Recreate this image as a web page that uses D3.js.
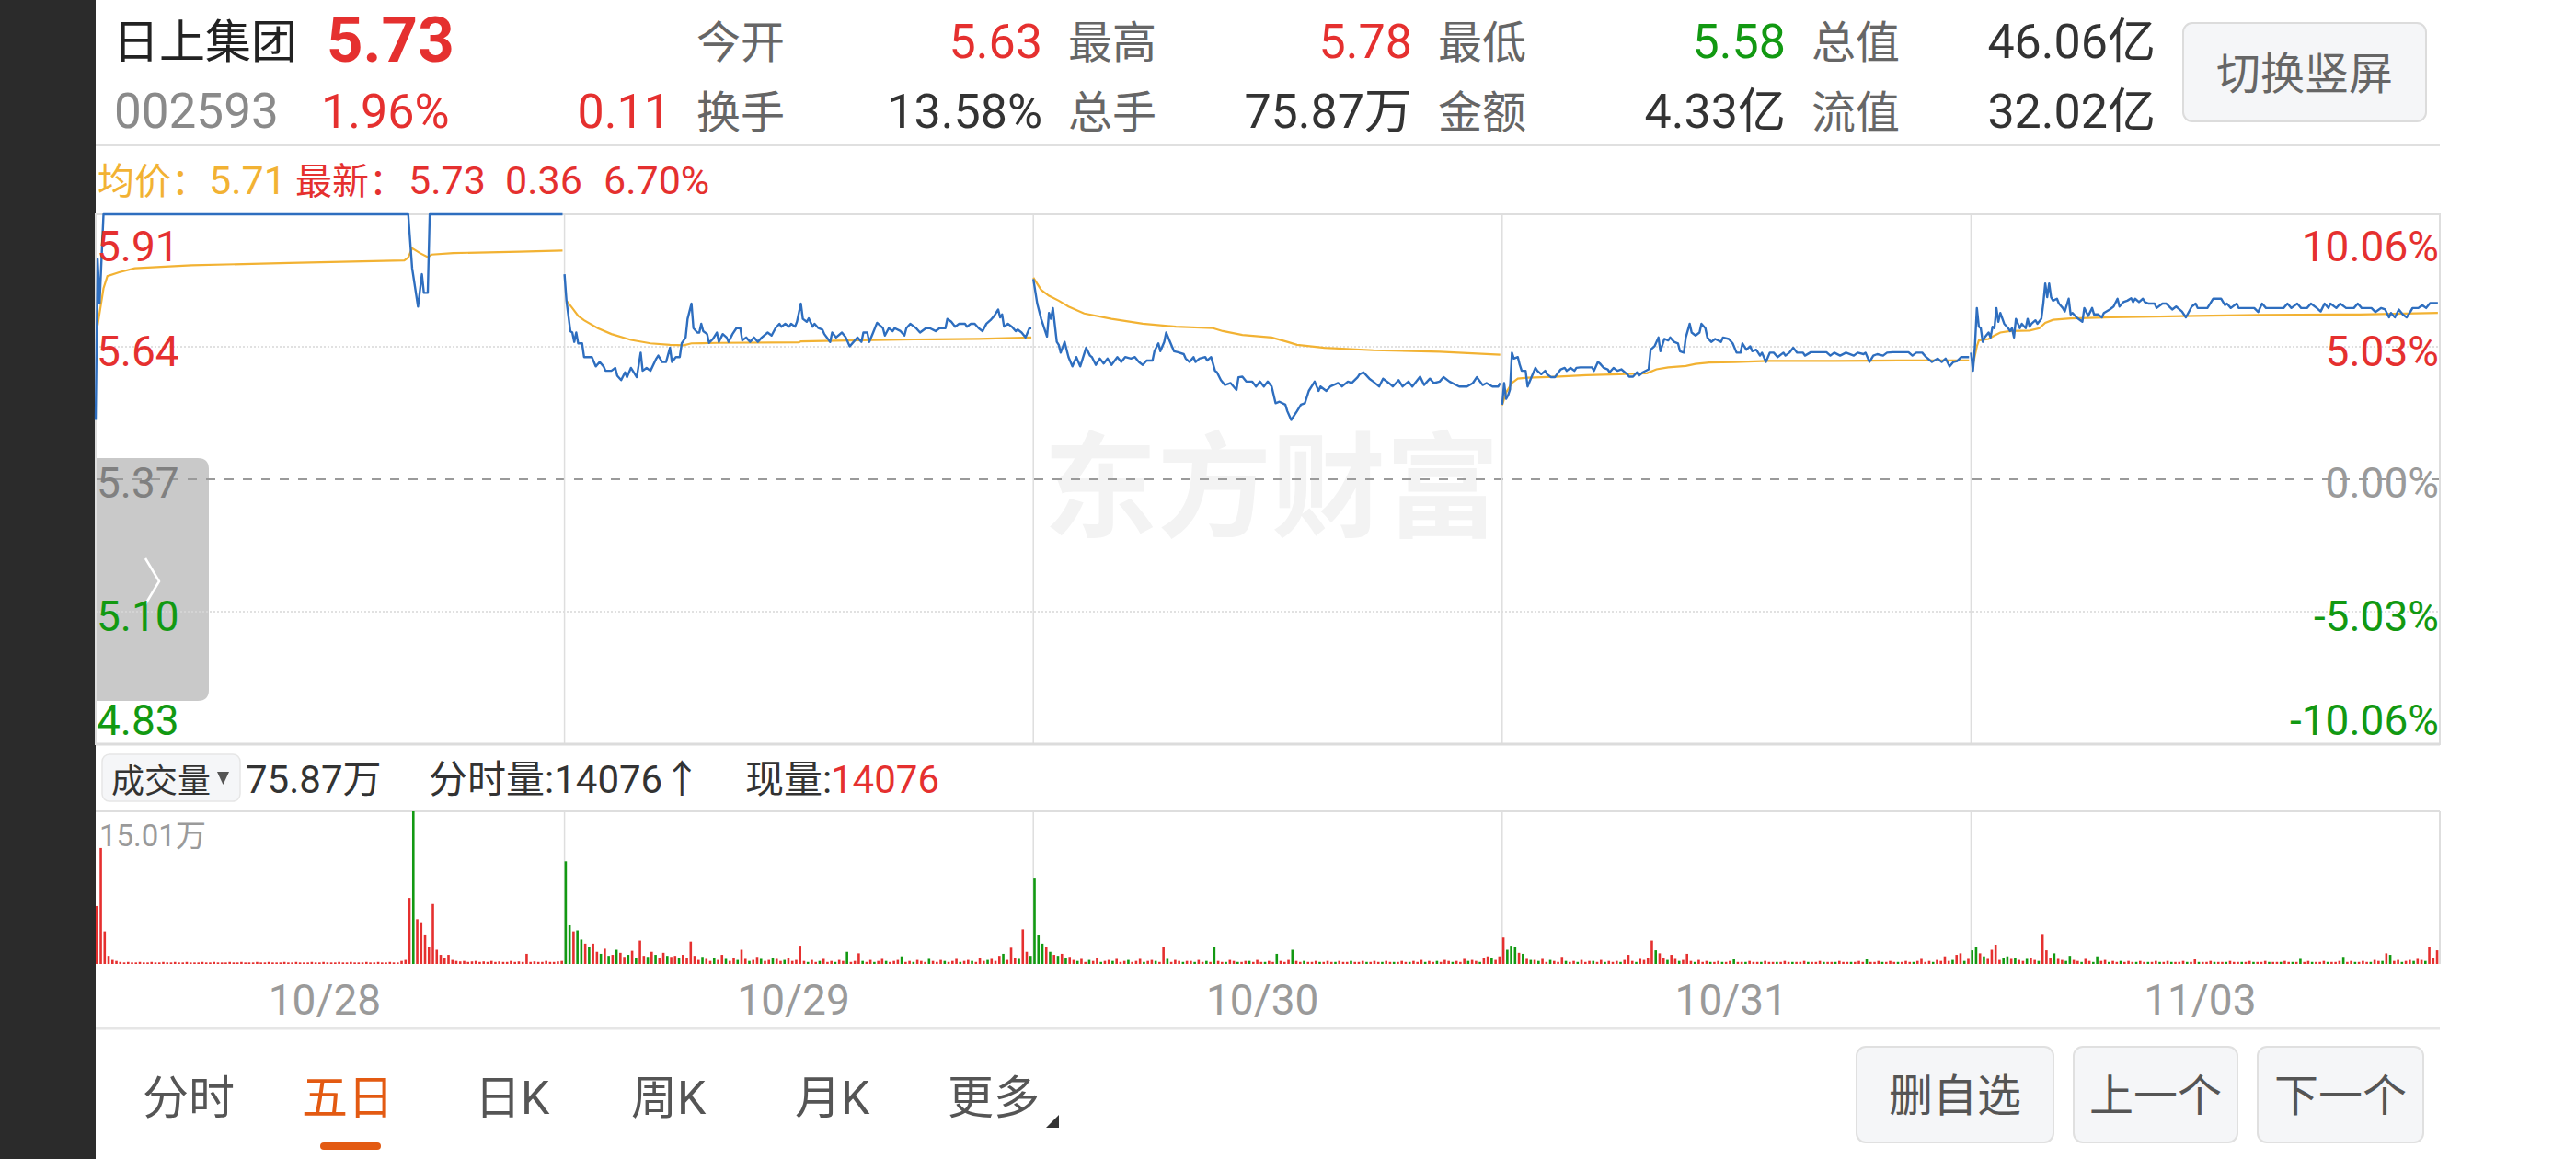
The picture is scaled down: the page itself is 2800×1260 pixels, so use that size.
<!DOCTYPE html>
<html><head><meta charset="utf-8">
<script src="https://d3js.org/d3.v7.min.js"></script>
<style>html,body{margin:0;padding:0;background:#fff;overflow:hidden}</style>
</head><body>
<svg id="c" width="2800" height="1260"></svg>
<script>
// ---------------- DATA ----------------
const stockName = "日上集团";
const stockCode = "002593";
const lastPrice = 5.73;
const todayPrevClose = 5.62;
const dayChangePct = "1.96%";
const dayChange = "0.11";
const quoteLabels = [["今开","最高","最低","总值"],["换手","总手","金额","流值"]];
const quoteValues = [["5.63","5.78","5.58","46.06亿"],["13.58%","75.87万","4.33亿","32.02亿"]];
const avgPrice = "5.71";
const latestInfo = ["5.73","0.36","6.70%"];
const days = ["10/28","10/29","10/30","10/31","11/03"];
const prevClose = 5.37;
const priceTicks = [5.91,5.64,5.37,5.10,4.83];
const pctTicks = ["10.06%","5.03%","0.00%","-5.03%","-10.06%"];
const volMaxLabel = "15.01万";
const volMax = 150.1; // thousand lots
const volInfo = {total:"75.87万", minute:"14076", now:"14076"};
const tabs = ["分时","五日","日K","周K","月K","更多"];
const buttons = ["删自选","上一个","下一个"];

// [minute of day, price]
const priceDay1 = [[0,5.491],[1,5.819],[2,5.728],[4,5.910],[160,5.910],[162,5.800],[165,5.722],[167,5.788],[168,5.750],[170,5.750],[171,5.910],[239,5.910]];
const avgDay1 = [[1,5.684],[4,5.759],[6,5.784],[12,5.792],[20,5.800],[49,5.806],[99,5.811],[158,5.816],[160,5.822],[162,5.841],[166,5.831],[170,5.823],[172,5.828],[183,5.831],[217,5.834],[239,5.836]];
const priceDay2 = [[0,5.788],[1,5.734],[3,5.672],[4,5.669],[5,5.650],[6,5.669],[7,5.647],[9,5.647],[10,5.619],[14,5.619],[16,5.600],[18,5.609],[20,5.600],[21,5.591],[24,5.591],[26,5.597],[27,5.581],[29,5.572],[31,5.588],[32,5.578],[34,5.597],[37,5.578],[39,5.628],[40,5.591],[42,5.597],[44,5.591],[47,5.616],[48,5.622],[50,5.609],[52,5.609],[54,5.638],[55,5.609],[57,5.619],[59,5.619],[60,5.647],[62,5.659],[63,5.697],[65,5.728],[66,5.678],[68,5.669],[69,5.669],[70,5.687],[71,5.672],[73,5.666],[74,5.648],[76,5.656],[78,5.669],[79,5.650],[81,5.666],[83,5.659],[84,5.650],[86,5.666],[88,5.678],[90,5.678],[91,5.653],[93,5.659],[95,5.650],[97,5.659],[99,5.650],[101,5.659],[104,5.669],[106,5.663],[108,5.678],[110,5.687],[111,5.681],[113,5.687],[115,5.681],[116,5.687],[118,5.681],[119,5.691],[121,5.728],[122,5.697],[124,5.691],[125,5.698],[127,5.681],[128,5.687],[130,5.678],[132,5.675],[133,5.666],[136,5.650],[137,5.669],[139,5.659],[142,5.669],[144,5.659],[146,5.641],[148,5.650],[150,5.659],[152,5.650],[153,5.669],[155,5.669],[156,5.650],[158,5.669],[160,5.689],[163,5.678],[164,5.663],[166,5.678],[168,5.672],[169,5.678],[172,5.672],[174,5.663],[175,5.678],[177,5.687],[179,5.681],[180,5.678],[182,5.669],[185,5.678],[187,5.678],[190,5.672],[192,5.678],[195,5.678],[196,5.697],[198,5.691],[200,5.681],[202,5.687],[205,5.687],[206,5.681],[208,5.687],[210,5.687],[212,5.678],[214,5.672],[216,5.687],[218,5.694],[220,5.703],[222,5.716],[223,5.700],[224,5.706],[225,5.681],[227,5.687],[229,5.681],[231,5.672],[232,5.675],[234,5.669],[236,5.659],[238,5.678],[239,5.678]];
const avgDay2 = [[1,5.734],[4,5.719],[7,5.703],[10,5.694],[17,5.678],[24,5.666],[34,5.654],[44,5.647],[54,5.644],[61,5.643],[65,5.647],[78,5.648],[120,5.649],[121,5.651],[145,5.653],[179,5.655],[212,5.656],[239,5.659]];
const priceDay3 = [[0,5.778],[2,5.728],[4,5.697],[7,5.661],[8,5.709],[9,5.697],[10,5.719],[12,5.650],[13,5.644],[14,5.628],[16,5.650],[18,5.619],[20,5.600],[22,5.619],[24,5.600],[27,5.638],[29,5.622],[30,5.619],[32,5.603],[34,5.616],[36,5.606],[38,5.616],[40,5.603],[43,5.619],[45,5.609],[47,5.619],[50,5.616],[52,5.619],[54,5.609],[56,5.603],[58,5.612],[61,5.612],[62,5.631],[64,5.647],[65,5.631],[67,5.650],[68,5.669],[70,5.650],[72,5.631],[74,5.629],[77,5.625],[78,5.616],[80,5.609],[82,5.619],[83,5.609],[85,5.616],[88,5.619],[89,5.612],[91,5.619],[93,5.591],[94,5.588],[96,5.572],[98,5.562],[101,5.566],[104,5.552],[105,5.578],[107,5.579],[109,5.569],[112,5.569],[114,5.559],[116,5.569],[118,5.559],[120,5.569],[122,5.559],[124,5.525],[126,5.528],[129,5.522],[130,5.509],[132,5.491],[135,5.509],[137,5.522],[139,5.525],[141,5.550],[144,5.569],[146,5.550],[147,5.559],[150,5.550],[152,5.559],[156,5.566],[158,5.559],[161,5.569],[163,5.566],[166,5.578],[167,5.584],[169,5.588],[172,5.575],[174,5.569],[177,5.559],[179,5.575],[182,5.566],[184,5.559],[187,5.572],[189,5.559],[192,5.569],[194,5.559],[198,5.579],[200,5.562],[203,5.575],[205,5.566],[208,5.569],[210,5.578],[213,5.569],[218,5.559],[222,5.559],[225,5.566],[227,5.578],[230,5.562],[232,5.566],[235,5.559],[238,5.559],[239,5.566]];
const avgDay3 = [[0,5.781],[4,5.756],[8,5.744],[13,5.734],[18,5.722],[26,5.708],[40,5.697],[56,5.687],[73,5.681],[92,5.678],[97,5.672],[107,5.664],[122,5.659],[130,5.650],[135,5.644],[149,5.638],[174,5.633],[208,5.630],[239,5.624]];
const priceDay4 = [[0,5.522],[1,5.566],[2,5.534],[3,5.541],[4,5.553],[5,5.628],[6,5.616],[8,5.619],[9,5.603],[10,5.591],[12,5.591],[13,5.559],[15,5.578],[17,5.597],[18,5.591],[20,5.584],[22,5.591],[23,5.584],[25,5.578],[27,5.578],[30,5.594],[32,5.597],[33,5.591],[35,5.597],[37,5.591],[38,5.597],[40,5.598],[46,5.598],[47,5.591],[49,5.609],[50,5.606],[52,5.597],[54,5.594],[55,5.588],[57,5.597],[59,5.591],[61,5.594],[64,5.584],[65,5.579],[67,5.579],[69,5.588],[70,5.581],[72,5.588],[75,5.594],[76,5.634],[78,5.641],[80,5.659],[81,5.631],[83,5.656],[85,5.653],[86,5.659],[88,5.650],[90,5.647],[91,5.631],[93,5.628],[94,5.659],[96,5.687],[97,5.669],[99,5.663],[101,5.669],[102,5.687],[104,5.678],[105,5.659],[107,5.650],[109,5.656],[112,5.650],[113,5.659],[116,5.656],[118,5.647],[120,5.628],[122,5.628],[123,5.647],[125,5.634],[127,5.641],[128,5.631],[130,5.634],[132,5.622],[133,5.628],[135,5.609],[137,5.628],[139,5.628],[141,5.619],[144,5.628],[145,5.622],[147,5.628],[149,5.638],[151,5.628],[154,5.628],[155,5.622],[158,5.629],[166,5.629],[168,5.622],[170,5.628],[173,5.622],[176,5.628],[180,5.622],[182,5.628],[185,5.625],[186,5.628],[188,5.609],[190,5.622],[192,5.625],[195,5.622],[197,5.628],[200,5.629],[208,5.629],[210,5.622],[212,5.628],[215,5.628],[217,5.619],[220,5.609],[223,5.616],[225,5.609],[227,5.616],[229,5.600],[231,5.609],[233,5.611],[235,5.619],[239,5.619]];
const avgDay4 = [[0,5.521],[2,5.547],[5,5.566],[8,5.575],[13,5.577],[27,5.579],[43,5.582],[60,5.584],[74,5.586],[79,5.594],[85,5.598],[94,5.601],[99,5.605],[106,5.608],[119,5.609],[136,5.611],[170,5.611],[203,5.612],[239,5.612]];
const priceDay5 = [[0,5.628],[1,5.591],[2,5.641],[3,5.719],[4,5.681],[5,5.678],[6,5.650],[7,5.659],[9,5.669],[10,5.659],[11,5.681],[12,5.678],[13,5.719],[14,5.691],[15,5.709],[17,5.687],[19,5.678],[20,5.672],[21,5.678],[22,5.659],[23,5.697],[25,5.678],[26,5.687],[28,5.678],[29,5.697],[30,5.681],[31,5.687],[33,5.694],[34,5.687],[36,5.697],[37,5.728],[38,5.769],[39,5.741],[40,5.769],[41,5.741],[42,5.734],[44,5.738],[45,5.728],[47,5.719],[48,5.712],[50,5.738],[51,5.706],[52,5.709],[54,5.700],[56,5.694],[57,5.691],[58,5.719],[60,5.703],[62,5.719],[63,5.706],[65,5.706],[67,5.700],[68,5.709],[71,5.716],[73,5.722],[75,5.738],[76,5.722],[78,5.731],[80,5.734],[82,5.739],[83,5.731],[84,5.738],[86,5.731],[88,5.738],[89,5.731],[91,5.728],[94,5.728],[95,5.719],[98,5.728],[100,5.728],[103,5.716],[105,5.722],[108,5.712],[110,5.700],[113,5.722],[115,5.728],[116,5.719],[121,5.719],[124,5.738],[128,5.738],[130,5.725],[131,5.728],[133,5.719],[136,5.728],[137,5.719],[145,5.719],[147,5.711],[149,5.728],[151,5.719],[160,5.719],[162,5.728],[164,5.719],[167,5.728],[169,5.719],[172,5.719],[174,5.728],[177,5.719],[179,5.712],[181,5.728],[183,5.719],[184,5.728],[187,5.719],[189,5.728],[192,5.719],[196,5.719],[198,5.728],[200,5.719],[205,5.719],[207,5.711],[210,5.719],[212,5.716],[214,5.700],[215,5.709],[217,5.700],[219,5.716],[221,5.706],[223,5.700],[225,5.712],[226,5.719],[229,5.719],[231,5.725],[233,5.719],[235,5.729],[239,5.729]];
const avgDay5 = [[1,5.603],[3,5.641],[4,5.653],[9,5.656],[12,5.663],[15,5.669],[20,5.672],[30,5.673],[35,5.678],[38,5.689],[42,5.695],[51,5.698],[72,5.700],[115,5.703],[148,5.705],[199,5.706],[239,5.709]];

// volume, one value per 2 minutes, thousand lots; positive = up (red), negative = down (green)
const volDay1 = [57,114,32,8,4,3,2,1.5,2,1.5, 1.5,2,1.5,1.5,2,1.5,1.5,2,1.5,1.5, 2,1.5,1.5,2,1.5,1.5,1.5,2,1.5,1.5, 2,1.5,1.5,1.5,2,1.5,1.5,2,1.5,1.5, 1.5,2,1.5,1.5,2,1.5,1.5,1.5,2,1.5, 1.5,2,1.5,1.5,1.5,2,1.5,1.5,2,1.5, 1.5,1.5,2,1.5,1.5,2,1.5,1.5,1.5,2, 1.5,1.5,2,1.5,1.5,2,1.5,1.5,3,4, 65,-150.1,44,41,29,17,59,14,9,6, 9,4,3,2.5,3,2,2.5,3,2,2.5, 2,3,2,2.5,2,2,3,2,2.5,2, 10,2,2.5,2,2,3,2,2,2.5,3];
const volDay2 = [-101,-38,32,-33,-24,20,-17,20, 12,-10,15,-8,9,-14,11,7,-9,13,-6,23,8,-7,12,-9,6,11,-8,7,8,-6,9, 6,22,8,4,-7,5,3,-6,4,9,-5,3,6,-4,14,5,-3,4,7,-5,3,4,-6,5,3,-4,6,3,4, 18,3,-2,4,2,-3,5,2,3,-2,4,3,-12,2,3,10.5,-3,2,4,-2,3,5,-3,2,3,4,-7.5,2,3,-2,4,3,2,-5,3,2,4,-3,2,3,5,-2,3,4,-3,2,6,3,-4,5,3,8,-10,4,16,6,-5,34,12,-8];
const volDay3 = [-84,-28,-20,17,-12,9,-8,10,-6,7, 4,-3,5,2,-4,3,6,-2,3,4,-3,5,2,3,-4,2,3,5,-2,3,4,-3,2,17,-5,2,4,3,-2,3, 3,-2,4,2,-3,2,-17,3,2,-2, 4,3,-2,2,3,-3,2,4,2,-2, 3,2,-10,3,2,4,-14,3,2,-3, 2,2,3,-2,2,3,2,-2,3,2, 2,-3,2,2,3,-2,2,3,2,-2, 3,2,-2,2,3,2,-2,3,2,4, -2,3,2,-3,2,4,3,-2,3,2, 5,-3,4,3,-2,6,7.5,-6,4,7.5];
const volDay4 = [26,-14,-18,-17,11,-10,5,-4, 4,-3,5,2,-4,3,2,7,-3,2, 3,-2,4,2,3,-3,2,4,-2,3, 2,3,-2,4,9,3,-2,5,4,6, 23,-13.5,10.5,6,-4,9,5,-3,4,10, 3,-2,4,2,3,-2,2,3,-2,2, 3,-4.5,2,2,-2,3,2,2,-2,3, 2,2,-2,2,3,2,-2,2,2,3, -2,2,2,3,-2,2,2,-2,3,2, 2,-2,2,3,2,-4.5,2,2,3,-2, 2,3,2,-2,2,3,2,-2,3,5, 2,3,-2,4,3,7.5,3,-4,9,10.5, -3,5];
const volDay5 = [-13.5,-16.5,10.5,-7.5,5,14,19,4,-6,-7.5, 5,-6,4,3,-5,6,4,-3,29.5,13.5, 6,-10.5,5,4,-3,-8,4,3,-2,5, 3,-2,-7.5,3,4,-2,3,2,-3,2, 3,2,-2,3,2,-2,2,3,-2,2, 3,-2,2,2,3,-2,2,4.5,-2,2, 2,3,-2,2,2,-2,3,2,2,-2, 2,3,-2,2,2,3,-2,2,2,-2, 3,2,-2,2,-5,2,3,-2,2,2, 3,-2,2,2,3,-7,2,3,-2,2, 3,2,-2,4,3,-3,10.5,-9,3,4, -2,3,4,-3,5,4,-3,16.5,6,13.5];

const priceDays = [priceDay1,priceDay2,priceDay3,priceDay4,priceDay5];
const avgDays = [avgDay1,avgDay2,avgDay3,avgDay4,avgDay5];
const volDays = [volDay1,volDay2,volDay3,volDay4,volDay5];

// ---------------- STYLE / LAYOUT ----------------
const FONT = "Roboto, 'Noto Sans CJK SC', sans-serif";
const RED = "#e5302f", GREEN = "#129912", ORANGE = "#f2b233", BLUE = "#2e6ebf";
const L = 104, R = 2652, T = 233, B = 809, VT = 882, VB = 1048;
const svg = d3.select("#c");

function txt(x, y, s, size, fill, opt) {
  opt = opt || {};
  const t = svg.append("text").attr("x", x).attr("y", y).text(s)
    .attr("font-size", size).attr("fill", fill)
    .attr("font-family", opt.ff || FONT)
    .attr("text-anchor", opt.a || "start");
  if (opt.w) t.attr("font-weight", opt.w);
  return t;
}

svg.append("rect").attr("width", 2800).attr("height", 1260).attr("fill", "#fff");
svg.append("rect").attr("x", 0).attr("y", 0).attr("width", L).attr("height", 1260).attr("fill", "#2b2b2b");

// ---------------- HEADER ----------------
txt(123, 63, stockName, 50, "#222");
txt(355, 67, lastPrice.toFixed(2), 69, RED, {w: 700});
txt(124, 139, stockCode, 53, "#8a8a8a");
txt(349, 139, dayChangePct, 52, RED);
txt(729, 139, dayChange, 52, RED, {a: "end"});
const labX = [757, 1161, 1563, 1969], valX = [1133, 1535, 1941, 2343], rowY = [63, 139];
quoteLabels.forEach((row, r) => row.forEach((s, c) => txt(labX[c], rowY[r], s, 48, "#666")));
quoteValues.forEach((row, r) => row.forEach((s, c) => {
  let col = "#333";
  if (r === 0 && c < 3) { const v = +s; col = v > todayPrevClose ? RED : (v < todayPrevClose ? GREEN : "#333"); }
  txt(valX[c], rowY[r], s, 52, col, {a: "end"});
}));
svg.append("rect").attr("x", 2373).attr("y", 25).attr("width", 264).attr("height", 107).attr("rx", 10)
  .attr("fill", "#f5f6f8").attr("stroke", "#dcdcdc").attr("stroke-width", 2);
txt(2505, 97, "切换竖屏", 48, "#666", {a: "middle"});
svg.append("line").attr("x1", L).attr("x2", R).attr("y1", 158).attr("y2", 158).attr("stroke", "#e0e0e0").attr("stroke-width", 2);

// legend row
txt(106, 211, "均价：", 40, ORANGE);
txt(227, 211, avgPrice, 43, ORANGE);
txt(321, 211, "最新：", 40, RED);
txt(444, 211, latestInfo[0], 43, RED);
txt(549, 211, latestInfo[1], 43, RED);
txt(656, 211, latestInfo[2], 43, RED);

// ---------------- SCALES ----------------
const x = d3.scaleLinear().domain([0, 1200]).range([L, R]);
const y = d3.scaleLinear().domain([priceTicks[4], priceTicks[0]]).range([B, T]);
const yv = d3.scaleLinear().domain([0, volMax]).range([VB, VT]);

// ---------------- PRICE CHART ----------------
svg.append("path").attr("d", `M${L},498 H215 Q227,498 227,510 V750 Q227,762 215,762 H${L} Z`).attr("fill", "#c9c9c9");
svg.append("polyline").attr("points", "158,607 173,632 158,657").attr("fill", "none").attr("stroke", "#fff").attr("stroke-width", 2.5);

txt(1382, 574, "东方财富", 124, "#f3f3f3", {a: "middle", w: 700, ff: "'Noto Sans CJK SC', sans-serif"});

[priceTicks[1], priceTicks[3]].forEach(v => {
  svg.append("line").attr("x1", L).attr("x2", R).attr("y1", y(v)).attr("y2", y(v))
    .attr("stroke", "#d8d8d8").attr("stroke-width", 1.5).attr("stroke-dasharray", "2,2");
});
svg.append("line").attr("x1", L).attr("x2", R).attr("y1", y(prevClose)).attr("y2", y(prevClose))
  .attr("stroke", "#9a9a9a").attr("stroke-width", 2).attr("stroke-dasharray", "10,10");
for (let d = 1; d < days.length; d++) {
  [[T, B], [VT, VB]].forEach(([a, b]) => svg.append("line").attr("x1", x(d * 240)).attr("x2", x(d * 240))
    .attr("y1", a).attr("y2", b).attr("stroke", "#dedede").attr("stroke-width", 1.5));
}
svg.append("rect").attr("x", L).attr("y", T).attr("width", R - L).attr("height", B - T)
  .attr("fill", "none").attr("stroke", "#dedede").attr("stroke-width", 2);
svg.append("line").attr("x1", L).attr("x2", R).attr("y1", B).attr("y2", B).attr("stroke", "#dcdcdc").attr("stroke-width", 3);

const line = d => d3.line().x(p => x(d * 240 + p[0])).y(p => y(p[1]));
avgDays.forEach((arr, d) => svg.append("path").attr("d", line(d)(arr)).attr("fill", "none").attr("stroke", ORANGE).attr("stroke-width", 2.2));
priceDays.forEach((arr, d) => svg.append("path").attr("d", line(d)(arr)).attr("fill", "none").attr("stroke", BLUE).attr("stroke-width", 2.4).attr("stroke-linejoin", "round"));

const labelDy = [50, 20, 19, 20, -11];
const leftCols = [RED, RED, "#808080", GREEN, GREEN];
const rightCols = [RED, RED, "#9a9a9a", GREEN, GREEN];
const gl = svg.append("g").attr("transform", `translate(${L},0)`)
  .call(d3.axisRight(y).tickValues(priceTicks).tickSize(0).tickPadding(1).tickFormat(d3.format(".2f")));
gl.select(".domain").remove();
gl.attr("font-family", FONT).attr("font-size", 46);
gl.selectAll("text").attr("dy", (d, i) => labelDy[i]).attr("fill", (d, i) => leftCols[i]);
const gr = svg.append("g").attr("transform", `translate(${R - 1},0)`)
  .call(d3.axisLeft(y).tickValues(priceTicks).tickSize(0).tickPadding(0).tickFormat((d, i) => pctTicks[i]));
gr.select(".domain").remove();
gr.attr("font-family", FONT).attr("font-size", 46);
gr.selectAll("text").attr("dy", (d, i) => labelDy[i]).attr("fill", (d, i) => rightCols[i]);

// ---------------- VOLUME ----------------
svg.append("rect").attr("x", 111).attr("y", 820).attr("width", 150).attr("height", 51).attr("rx", 8)
  .attr("fill", "#f5f6f8").attr("stroke", "#e6e6e6").attr("stroke-width", 1.5);
txt(121, 862, "成交量", 36, "#333");
svg.append("polygon").attr("points", "236,839 249,839 242.5,853").attr("fill", "#555");
txt(267, 862, volInfo.total, 42, "#333");
txt(466, 862, "分时量:" + volInfo.minute + "↑", 42, "#333");
txt(810, 862, "现量:", 42, "#333");
txt(903, 862, volInfo.now, 42, RED);

svg.append("line").attr("x1", L).attr("x2", R).attr("y1", VT).attr("y2", VT).attr("stroke", "#dedede").attr("stroke-width", 2);
svg.append("line").attr("x1", R).attr("x2", R).attr("y1", VT).attr("y2", VB).attr("stroke", "#dedede").attr("stroke-width", 2);

const bars = [];
volDays.forEach((arr, d) => arr.forEach((v, i) => bars.push({m: d * 240 + i * 2, v: Math.abs(v), up: v > 0})));
svg.append("g").selectAll("rect").data(bars).join("rect")
  .attr("x", b => x(b.m)).attr("width", 2.6)
  .attr("y", b => yv(b.v)).attr("height", b => VB - yv(b.v))
  .attr("fill", b => b.up ? RED : GREEN);
txt(108, 920, volMaxLabel, 33, "#9a9a9a");

const gd = svg.append("g").attr("transform", "translate(0,1103)")
  .call(d3.axisBottom(x).tickValues(days.map((d, i) => i * 240 + 117)).tickSize(0).tickFormat((d, i) => days[i]));
gd.select(".domain").remove();
gd.attr("font-family", FONT).attr("font-size", 46);
gd.selectAll("text").attr("y", 0).attr("dy", 0).attr("fill", "#9a9a9a");
svg.append("line").attr("x1", L).attr("x2", R).attr("y1", 1118).attr("y2", 1118).attr("stroke", "#e6e6e6").attr("stroke-width", 3);

// ---------------- BOTTOM BAR ----------------
const tabX = [155, 328, 516, 686, 864, 1030];
tabs.forEach((s, i) => txt(tabX[i], 1211, s, 50, i === 1 ? "#e35a12" : "#555"));
svg.append("rect").attr("x", 348).attr("y", 1242).attr("width", 66).attr("height", 8).attr("rx", 4).attr("fill", "#e35a12");
svg.append("polygon").attr("points", "1151,1212 1151,1226 1137,1226").attr("fill", "#333");
const btnX = [[2018, 2232], [2254, 2432], [2454, 2634]];
buttons.forEach((s, i) => {
  svg.append("rect").attr("x", btnX[i][0]).attr("y", 1138).attr("width", btnX[i][1] - btnX[i][0]).attr("height", 104).attr("rx", 10)
    .attr("fill", "#f5f6f8").attr("stroke", "#e0e0e0").attr("stroke-width", 2);
  txt((btnX[i][0] + btnX[i][1]) / 2, 1208, s, 48, "#555", {a: "middle"});
});
</script>
</body></html>
